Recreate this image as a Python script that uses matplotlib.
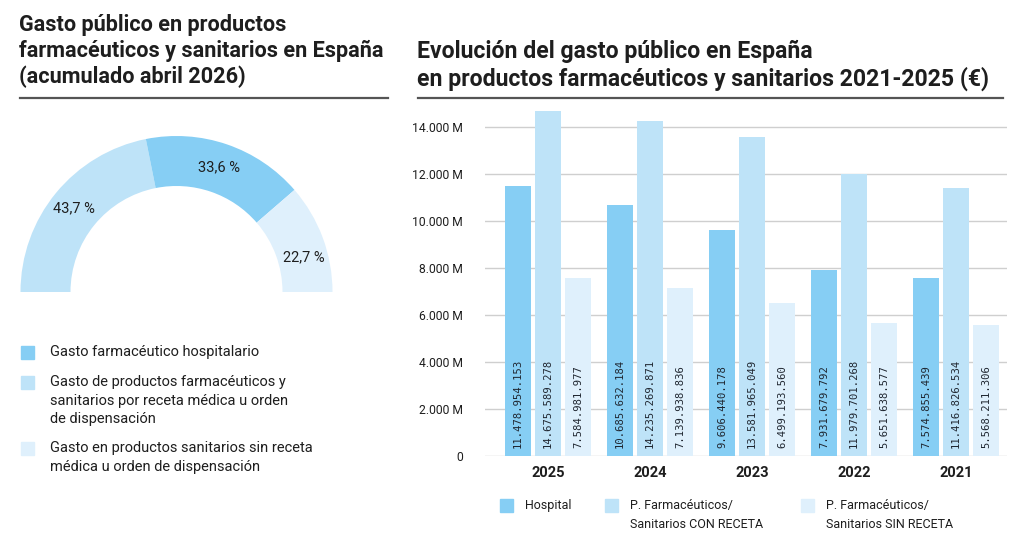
import numpy as np
import matplotlib
matplotlib.use("Agg")
import matplotlib.pyplot as plt
from matplotlib.lines import Line2D
from matplotlib.patches import Rectangle
from matplotlib.ticker import FuncFormatter

plt.rcParams['font.family'] = ['Roboto', 'DejaVu Sans']

# ---- data ----
donut_labels = ["Gasto farmacéutico hospitalario",
                "Gasto de productos farmacéuticos y\nsanitarios por receta médica u orden\nde dispensación",
                "Gasto en productos sanitarios sin receta\nmédica u orden de dispensación"]
donut_pct = [33.6, 43.7, 22.7]   # hospital, con receta, sin receta

years = ["2025", "2024", "2023", "2022", "2021"]
hospital = [11478954153, 10685632184, 9606440178, 7931679792, 7574855439]
con_receta = [14675589278, 14235269871, 13581965049, 11979701268, 11416826534]
sin_receta = [7584981977, 7139938836, 6499193560, 5651638577, 5568211306]
series_names = ["Hospital", "P. Farmacéuticos/\nSanitarios CON RECETA",
                "P. Farmacéuticos/\nSanitarios SIN RECETA"]

c_hosp = "#86CEF4"
c_con = "#BEE3F8"
c_sin = "#DFF0FC"
txt = "#1e1e1e"

W, H = 1024, 543
fig = plt.figure(figsize=(W / 100, H / 100), dpi=100)


def fx(x):
    return x / W


def fy(y):
    return 1 - y / H


def ftext(x, y, s, **kw):
    fig.text(fx(x), fy(y), s, color=txt, **kw)


# ---- titles ----
left_title = ["Gasto público en productos",
              "farmacéuticos y sanitarios en España",
              "(acumulado abril 2026)"]
for i, line in enumerate(left_title):
    ftext(19, 31 + i * 26, line, fontsize=15.6, fontweight='bold', va='baseline')
fig.add_artist(Line2D([fx(20), fx(388)], [fy(98), fy(98)], color="#555555", lw=1.6,
                      transform=fig.transFigure))

right_title = ["Evolución del gasto público en España",
               "en productos farmacéuticos y sanitarios 2021-2025 (€)"]
for i, line in enumerate(right_title):
    ftext(417, 58 + i * 28, line, fontsize=16.6, fontweight='bold', va='baseline')
fig.add_artist(Line2D([fx(418), fx(1003)], [fy(98), fy(98)], color="#555555", lw=1.6,
                      transform=fig.transFigure))

# ---- half donut ----
cx, cy, R = 176.5, 292, 156
box = 160
axd = fig.add_axes([fx(cx - box), fy(cy + box), 2 * box / W, 2 * box / H])
# order from the left going clockwise: con receta, hospital, sin receta
vals = np.array([donut_pct[1], donut_pct[0], donut_pct[2]])
cols = [c_con, c_hosp, c_sin]
wedges, _ = axd.pie(vals / 200.0, normalize=False, startangle=180, counterclock=False,
                    colors=cols, radius=1.0,
                    wedgeprops=dict(width=50 / R, edgecolor='none'))
axd.set_xlim(-box / R, box / R)
axd.set_ylim(-box / R, box / R)
axd.set_aspect('auto')
axd.axis('off')
rmid = 1 - 24 / R
for w, v in zip(wedges, vals):
    ang = np.deg2rad((w.theta1 + w.theta2) / 2)
    if v < 25:
        ang -= np.deg2rad(5)
    axd.text(rmid * np.cos(ang), rmid * np.sin(ang), f"{v:.1f} %".replace('.', ','),
             ha='center', va='center', fontsize=10.5, color=txt)

# ---- left legend ----
leg_y = [352, 382, 448]
for (y, lab, col) in zip(leg_y, donut_labels, [c_hosp, c_con, c_sin]):
    fig.add_artist(Rectangle((fx(21), fy(y + 6.5)), 13 / W, 13 / H, color=col,
                             transform=fig.transFigure))
    for j, line in enumerate(lab.split("\n")):
        ftext(50, y + j * 18.5, line, fontsize=10.5, va='center')

# ---- bar chart ----
ax = fig.add_axes([fx(485), fy(456), (1007 - 485) / W, (456 - 100) / H])
x = np.arange(len(years))
bw = 0.255
off = 0.294
for k, (vals_s, col) in enumerate(zip([hospital, con_receta, sin_receta], [c_hosp, c_con, c_sin])):
    xs = x + (k - 1) * off
    ax.bar(xs, vals_s, width=bw, color=col, zorder=2)
    for xi, v in zip(xs, vals_s):
        ax.annotate(f"{v:,}".replace(',', '.'), (xi, 0), xytext=(0, 6),
                    textcoords='offset points', rotation=90, ha='center', va='bottom',
                    fontfamily='DejaVu Sans Mono', fontsize=7.6, color="#1f2630", zorder=3)

ax.set_xlim(-0.618, 4.5)
ax.set_ylim(0, 15150e6)
ax.set_yticks(np.arange(0, 14001, 2000) * 1e6)
ax.yaxis.set_major_formatter(FuncFormatter(
    lambda v, p: "0" if v == 0 else f"{v / 1e6:,.0f} M".replace(',', '.')))
ax.set_xticks(x)
ax.set_xticklabels(years, fontweight='bold', fontsize=10.5)
ax.tick_params(axis='both', length=0, colors=txt)
ax.tick_params(axis='y', pad=16, labelsize=8.7)
ax.tick_params(axis='x', pad=7)
ax.grid(axis='y', color="#cfcfcf", lw=1, zorder=0)
for s in ax.spines.values():
    s.set_visible(False)

# ---- right legend ----
leg_x = [500, 605, 801]
for (lx, lab, col) in zip(leg_x, series_names, [c_hosp, c_con, c_sin]):
    fig.add_artist(Rectangle((fx(lx), fy(512)), 13 / W, 13 / H, color=col,
                             transform=fig.transFigure))
    for j, line in enumerate(lab.split("\n")):
        ftext(lx + 25, 506 + j * 19, line, fontsize=9, va='center')

fig.savefig("out.png", dpi=100)
